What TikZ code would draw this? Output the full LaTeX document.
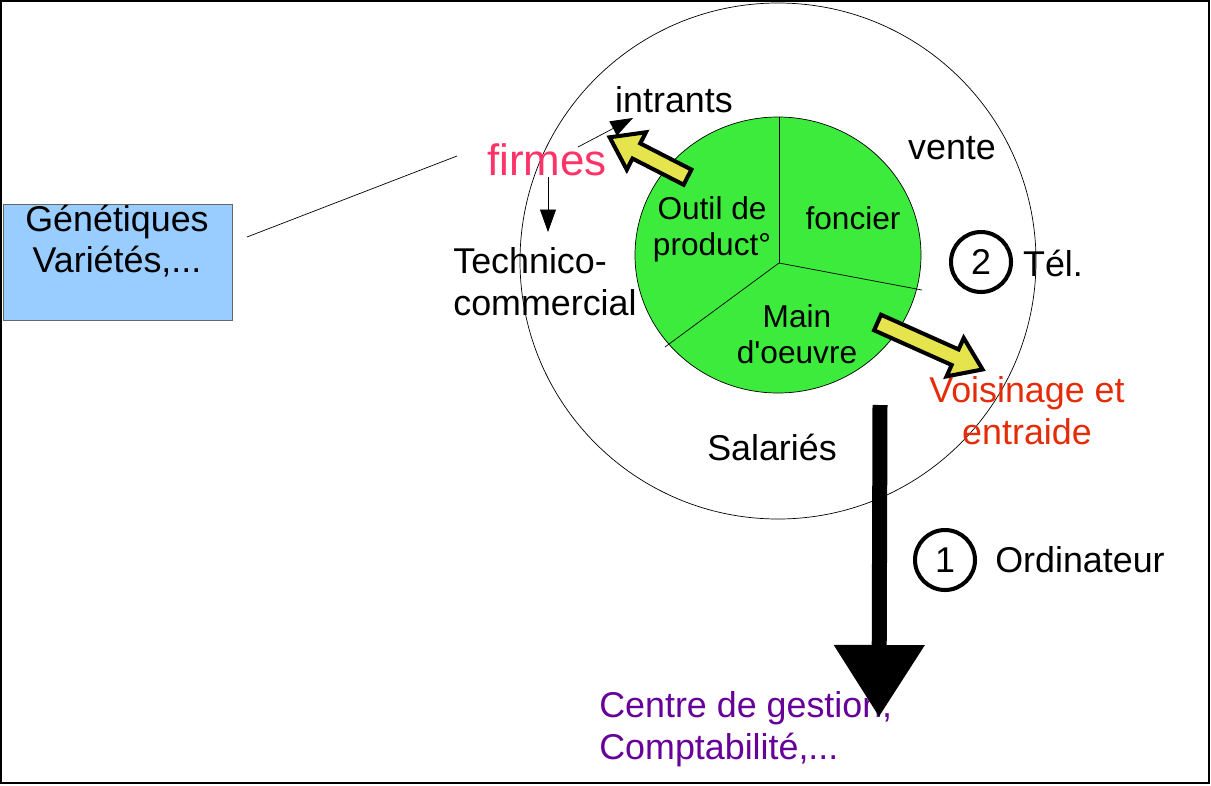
\documentclass[tikz,border=0pt]{standalone}
\usepackage{fontspec}
\setmainfont{Liberation Sans}
\usetikzlibrary{arrows.meta,shapes.arrows}

\definecolor{piegreen}{RGB}{61,235,61}
\definecolor{arrowyellow}{RGB}{230,228,76}
\definecolor{boxblue}{RGB}{153,204,255}
\definecolor{firmespink}{RGB}{255,51,102}
\definecolor{voisred}{RGB}{228,44,8}
\definecolor{gestpurple}{RGB}{102,0,153}

\begin{document}
\begin{tikzpicture}[
    x=0.02cm, y=-0.02cm,
    frame/.style     = {line width=1.1pt},
    ring/.style      = {thin},
    wedge/.style     = {thin},
    lbl/.style       = {font=\fontsize{20.4}{23.8}\selectfont, align=center, inner sep=0pt},
    pielbl/.style    = {font=\fontsize{18}{20.4}\selectfont, align=center, inner sep=0pt},
    numcirc/.style   = {circle, draw, line width=2.3pt, minimum size=1.2cm, inner sep=0pt,
                        font=\fontsize{20.4}{23.8}\selectfont},
    genbox/.style    = {rectangle, draw=black!60, fill=boxblue, minimum width=4.58cm,
                        minimum height=2.32cm, inner sep=0pt},
    fatarrow/.style  = {single arrow, draw=black, line width=2.3pt, fill=arrowyellow,
                        inner xsep=0pt, inner ysep=0.13cm, single arrow head extend=0.25cm,
                        single arrow tip angle=70},
    thinarrow/.style = {thin, -{Triangle[length=0.45cm, width=0.32cm]}},
    bigarrow/.style  = {line width=0.3cm, -{Triangle[length=1.44cm, width=1.74cm]}},
]
\useasboundingbox (0,0) rectangle (1211,785);

% ============================================================
%  FRAME
% ============================================================
\draw[frame] (1,1) rectangle (1209,783);

% ============================================================
%  RINGS  -  outer circle and green pie
% ============================================================
\draw[ring] (778,261) circle (258);
\draw[wedge, fill=piegreen] (778,255) ellipse [x radius=143, y radius=138];
\coordinate (hub) at (779,263);
\draw[wedge] (hub) -- (779,117);
\draw[wedge] (hub) -- (922,290);
\draw[wedge] (hub) -- (665,347);

\node[pielbl] (outil)   at (712,229) {Outil de\\product°};
\node[pielbl] (foncier) at (853,218) {foncier};
\node[pielbl] (main)    at (797,334) {Main\\d\textquotesingle oeuvre};

% ============================================================
%  LABELS ROUND THE RING
% ============================================================
\node[lbl] (intrants) at (674,100) {intrants};
\node[lbl, font=\fontsize{25}{29}\selectfont, text=firmespink] (firmes) at (547,160) {firmes};
\node[lbl] (vente)    at (952,148) {vente};
\node[lbl, align=left, anchor=west] (technico) at (453,282) {Technico-\\commercial};
\node[lbl] (salaries) at (772,447) {Salariés};
\node[lbl, text=voisred] (voisinage) at (1027,411) {Voisinage et\\entraide};

\node[numcirc] (num2) at (981,262) {2};
\node[lbl]     (tel)  at (1053,263) {Tél.};
\node[numcirc] (num1) at (945,560) {1};
\node[lbl]     (ordi) at (1080,560) {Ordinateur};

\node[lbl, align=left, anchor=west, text=gestpurple] (gestion) at (599,729)
    {Centre de gestion,\\Comptabilité,...};

% ============================================================
%  GENETIQUES BOX (left)
% ============================================================
\node[genbox] (genet) at (117.5,262) {};
\node[lbl] (genettxt) at (117,241) {Génétiques\\Variétés,...};

% ============================================================
%  ARROWS
% ============================================================
% fat yellow arrows out of the pie
\node[fatarrow, minimum height=1.75cm, rotate=152.9] (toFirmes) at (654,160) {};
\node[fatarrow, minimum height=2.3cm,  rotate=-24.1] (toVoisin) at (924.5,343.5) {};

% thin connectors round "firmes"
\coordinate (firmesNE) at (578,147);
\coordinate (intrantsSW) at (633,118);
\coordinate (firmesS) at (548,177);
\coordinate (technicoN) at (548,232);
\coordinate (genetE) at (247,237);
\coordinate (firmesW) at (457,156);
\draw[thinarrow] (firmesNE) -- (intrantsSW);
\draw[thinarrow] (firmesS) -- (technicoN);
\draw[thin] (genetE) -- (firmesW);

% big black arrow down to the management centre
\coordinate (gtop) at (880,405);
\coordinate (gtip) at (879,717);
\draw[bigarrow] (gtop) -- (gtip);

\end{tikzpicture}
\end{document}
